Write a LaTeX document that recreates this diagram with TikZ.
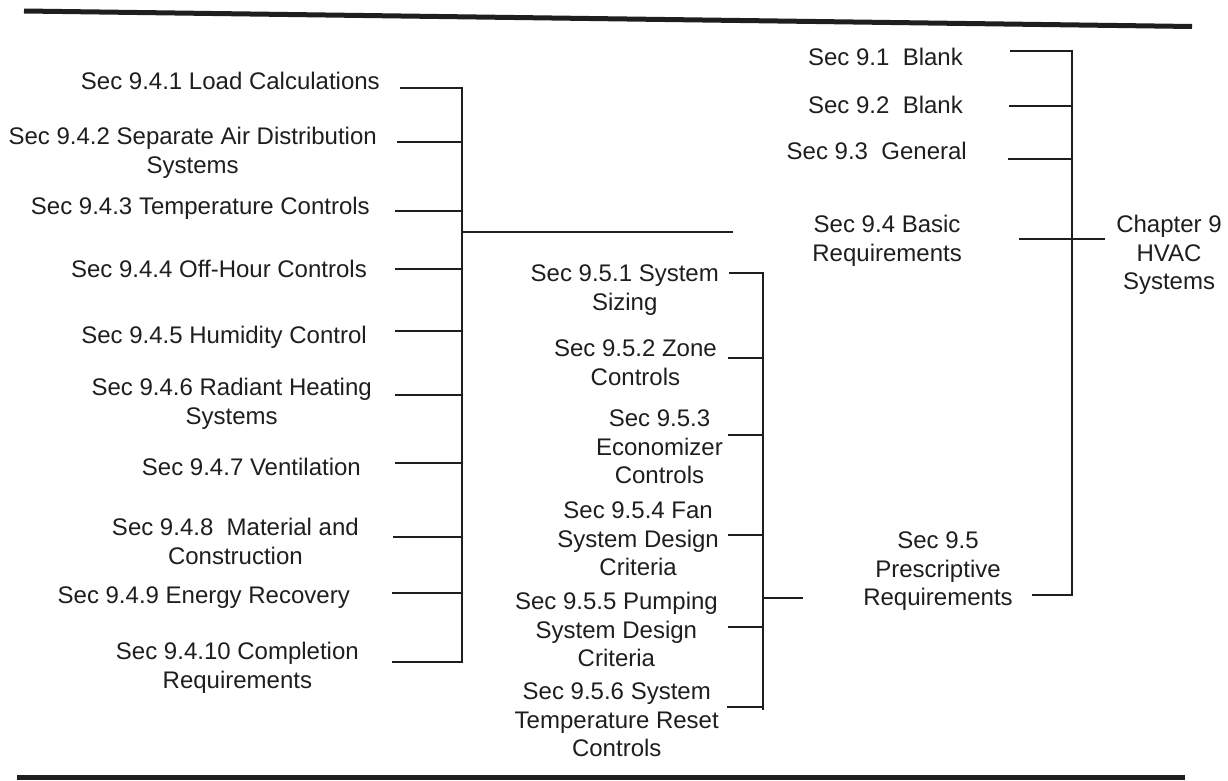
\documentclass[tikz,border=0pt]{standalone}
\usepackage{fontspec}
\setmainfont{Liberation Sans}
\definecolor{ink}{RGB}{30,30,30}
\begin{document}
\begin{tikzpicture}[x=1pt,y=-1pt,
  lbl/.style={inner sep=0pt, align=center, text=ink, font=\fontsize{24}{28.5}\selectfont},
  conn/.style={draw=ink, line width=2pt},
  barline/.style={draw=ink, line width=2.5pt},
  rulel/.style={draw=ink, line width=5pt}]
\useasboundingbox (0,0) rectangle (1228,781);
% rules
\coordinate (rt1) at (24,11);
\coordinate (rt2) at (1192,26.5);
\coordinate (rb1) at (17,777);
\coordinate (rb2) at (1185,777);
\draw[rulel] (rt1) -- (rt2);
\draw[rulel] (rb1) -- (rb2);
% left column
\node[lbl,anchor=north east] (n941) at (380,72) {Sec 9.4.1 Load Calculations};
\node[lbl,anchor=north east] (n942) at (377,127) {Sec 9.4.2 Separate Air Distribution\\Systems};
\node[lbl,anchor=north east] (n943) at (370,197) {Sec 9.4.3 Temperature Controls};
\node[lbl,anchor=north east] (n944) at (367,260) {Sec 9.4.4 Off-Hour Controls};
\node[lbl,anchor=north east] (n945) at (367,326) {Sec 9.4.5 Humidity Control};
\node[lbl,anchor=north east] (n946) at (372,378) {Sec 9.4.6 Radiant Heating\\Systems};
\node[lbl,anchor=north east] (n947) at (361,458) {Sec 9.4.7 Ventilation};
\node[lbl,anchor=north east] (n948) at (359,518) {Sec 9.4.8\ \ Material and\\Construction};
\node[lbl,anchor=north east] (n949) at (350,587) {Sec 9.4.9 Energy Recovery};
\node[lbl,anchor=north east] (n9410) at (359,642) {Sec 9.4.10 Completion\\Requirements};
\coordinate (b4t) at (462,87);
\coordinate (b4b) at (462,663);
\coordinate (s941) at (400,88);
\coordinate (s942) at (397,142);
\coordinate (s943) at (395,211);
\coordinate (s944) at (395,269);
\coordinate (s945) at (395,331);
\coordinate (s946) at (395,395);
\coordinate (s947) at (395,463);
\coordinate (s948) at (393,537);
\coordinate (s949) at (392,593);
\coordinate (s9410) at (392,662);
\foreach \s in {s941,s942,s943,s944,s945,s946,s947,s948,s949,s9410}
  \draw[conn] (\s) -- (\s -| b4t);
\draw[barline] (b4t) -- (b4b);
\coordinate (j4) at (462,232);
\coordinate (e4) at (733,232);
\draw[conn] (j4) -- (e4);
% middle column
\node[lbl,anchor=north east] (n951) at (719,265) {Sec 9.5.1 System\\Sizing};
\node[lbl,anchor=north east] (n952) at (717,340) {Sec 9.5.2 Zone\\Controls};
\node[lbl,anchor=north east] (n953) at (723,410) {Sec 9.5.3\\Economizer\\Controls};
\node[lbl,anchor=north east] (n954) at (719,502) {Sec 9.5.4 Fan\\System Design\\Criteria};
\node[lbl,anchor=north east] (n955) at (718,592) {Sec 9.5.5 Pumping\\System Design\\Criteria};
\node[lbl,anchor=north east] (n956) at (719,683) {Sec 9.5.6 System\\Temperature Reset\\Controls};
\coordinate (b5t) at (763,272);
\coordinate (b5b) at (763,710);
\coordinate (s951) at (729,273);
\coordinate (s952) at (728,358);
\coordinate (s953) at (728,435);
\coordinate (s954) at (728,535);
\coordinate (s955) at (728,627);
\coordinate (s956) at (727,707);
\foreach \s in {s951,s952,s953,s954,s955,s956}
  \draw[conn] (\s) -- (\s -| b5t);
\draw[barline] (b5t) -- (b5b);
\coordinate (j5) at (763,598);
\coordinate (e5) at (803,598);
\draw[conn] (j5) -- (e5);
% right column
\node[lbl,anchor=north east] (n91) at (963,48) {Sec 9.1\ \ Blank};
\node[lbl,anchor=north east] (n92) at (963,96) {Sec 9.2\ \ Blank};
\node[lbl,anchor=north east] (n93) at (967,142) {Sec 9.3\ \ General};
\node[lbl,anchor=north east] (n94) at (962,215) {Sec 9.4 Basic\\Requirements};
\node[lbl,anchor=north] (ch9) at (1169,215) {Chapter 9\\HVAC\\Systems};
\node[lbl,anchor=north] (n95) at (938,532) {Sec 9.5\\Prescriptive\\Requirements};
\coordinate (b9t) at (1072,50);
\coordinate (b9b) at (1072,596);
\coordinate (s91) at (1010,51);
\coordinate (s92) at (1009,106);
\coordinate (s93) at (1008,159);
\coordinate (s95) at (1032,595);
\foreach \s in {s91,s92,s93,s95}
  \draw[conn] (\s) -- (\s -| b9t);
\draw[barline] (b9t) -- (b9b);
\coordinate (s94) at (1019,239);
\coordinate (e94) at (1105,239);
\draw[conn] (s94) -- (e94);
\end{tikzpicture}
\end{document}
